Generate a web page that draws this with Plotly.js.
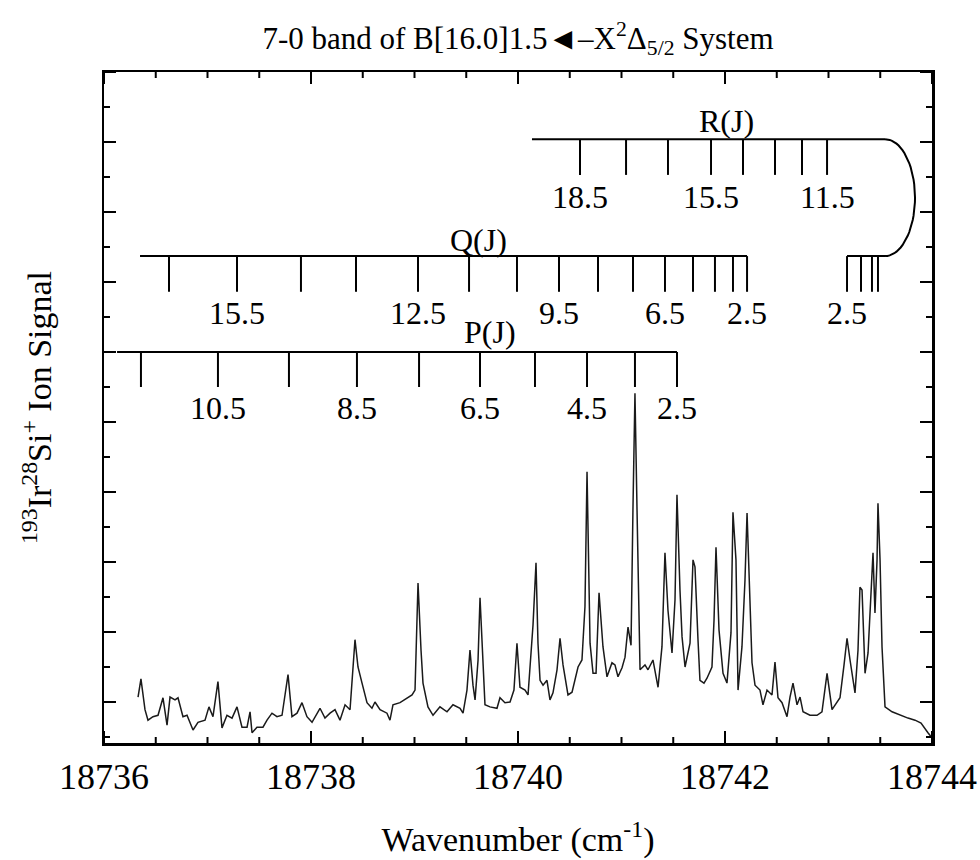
<!DOCTYPE html>
<html><head><meta charset="utf-8">
<script src="https://cdn.plot.ly/plotly-3.0.1.min.js"></script>
<style>body{margin:0;background:#fff}</style>
</head><body><div id="chart" style="width:980px;height:860px"></div>
<script>
// ---- spectrum ----
const wavenumber = [18736.329,18736.357,18736.396,18736.425,18736.473,18736.522,18736.570,18736.609,18736.638,18736.686,
18736.715,18736.763,18736.802,18736.860,18736.908,18736.976,18737.014,18737.053,18737.101,18737.140,
18737.188,18737.237,18737.285,18737.333,18737.382,18737.411,18737.430,18737.478,18737.536,18737.575,
18737.623,18737.671,18737.720,18737.778,18737.816,18737.865,18737.913,18737.961,18738.010,18738.048,
18738.087,18738.135,18738.184,18738.232,18738.280,18738.329,18738.377,18738.425,18738.454,18738.493,
18738.541,18738.589,18738.618,18738.667,18738.734,18738.763,18738.792,18738.860,18738.928,18738.976,
18739.005,18739.034,18739.063,18739.082,18739.130,18739.179,18739.246,18739.314,18739.372,18739.440,
18739.469,18739.507,18739.536,18739.565,18739.585,18739.614,18739.633,18739.662,18739.681,18739.729,
18739.797,18739.826,18739.874,18739.923,18739.961,18739.990,18740.019,18740.068,18740.097,18740.145,
18740.174,18740.193,18740.213,18740.242,18740.280,18740.309,18740.338,18740.377,18740.406,18740.435,
18740.483,18740.522,18740.580,18740.618,18740.647,18740.667,18740.696,18740.725,18740.754,18740.783,
18740.821,18740.860,18740.908,18740.937,18740.966,18741.005,18741.034,18741.063,18741.092,18741.111,
18741.130,18741.150,18741.179,18741.227,18741.256,18741.304,18741.353,18741.391,18741.420,18741.449,
18741.488,18741.517,18741.536,18741.565,18741.585,18741.614,18741.662,18741.691,18741.710,18741.739,
18741.758,18741.797,18741.826,18741.874,18741.894,18741.913,18741.942,18741.981,18742.019,18742.058,
18742.077,18742.106,18742.126,18742.164,18742.193,18742.213,18742.242,18742.261,18742.290,18742.338,
18742.367,18742.406,18742.454,18742.483,18742.512,18742.551,18742.599,18742.628,18742.657,18742.696,
18742.725,18742.754,18742.821,18742.889,18742.937,18742.986,18743.034,18743.082,18743.111,18743.150,
18743.179,18743.208,18743.256,18743.285,18743.304,18743.324,18743.353,18743.382,18743.411,18743.430,
18743.449,18743.469,18743.478,18743.498,18743.517,18743.546,18743.614,18743.691,18743.768,18743.836,
18743.894,18743.961,18744.000];
const signal = [0.07,0.33,-0.11,-0.26,-0.21,-0.19,0.06,-0.33,0.07,0.03,
0.06,-0.21,-0.19,-0.40,-0.29,-0.26,-0.07,-0.21,0.29,-0.37,
-0.19,-0.23,-0.07,-0.36,-0.36,-0.14,-0.44,-0.36,-0.36,-0.26,
-0.16,-0.21,-0.19,0.39,-0.21,-0.16,-0.01,-0.21,-0.29,-0.19,
-0.09,-0.23,-0.16,-0.11,-0.26,-0.04,-0.11,0.89,0.50,0.27,
-0.01,-0.09,0.00,-0.11,-0.16,-0.26,-0.04,-0.01,0.06,0.10,
0.17,1.70,0.74,0.27,-0.07,-0.19,-0.07,-0.14,-0.04,-0.09,
-0.16,0.17,0.74,0.24,0.03,0.60,1.49,0.60,-0.04,-0.07,
-0.09,0.06,-0.01,0.00,0.17,0.84,0.21,0.17,0.10,1.10,
1.99,0.84,0.31,0.24,0.31,0.03,0.13,0.46,0.91,0.53,
0.10,0.14,0.50,0.60,1.36,3.29,0.84,0.41,0.41,1.56,
0.79,0.36,0.56,0.53,0.36,0.49,0.64,1.07,0.81,2.79,
4.41,2.74,0.46,0.53,0.46,0.60,0.21,0.79,2.13,1.31,
0.70,1.46,2.96,1.60,0.93,0.50,0.84,2.03,1.93,0.89,
0.31,0.27,0.34,0.50,1.17,2.21,1.03,0.41,0.27,0.99,
2.71,2.03,0.17,0.79,1.74,2.70,1.46,0.56,0.24,0.17,
-0.04,0.17,0.10,0.57,0.06,-0.01,-0.21,0.07,0.27,-0.04,
0.07,-0.14,-0.19,-0.19,-0.14,0.41,-0.11,-0.01,0.06,0.53,
0.91,0.60,0.13,0.74,1.64,1.60,0.41,0.70,1.46,2.13,
1.27,2.03,2.84,2.03,0.79,-0.07,-0.14,-0.19,-0.23,-0.26,
-0.30,-0.44,-0.51];

// ---- rotational assignments ----
const rJ   = [18.5, 17.5, 16.5, 15.5, 14.5, 13.5, 12.5, 11.5];
const rPos = [18740.599, 18741.044, 18741.449, 18741.865, 18742.174, 18742.483, 18742.744, 18742.986];
const rSpan = [18740.135, 18743.546];
const rTurn = [18743.836];
const rLowJ   = [2.5, 3.5, 4.5, 5.5];
const rLowPos = [18743.179, 18743.314, 18743.420, 18743.478];
const qJ   = [16.5, 15.5, 14.5, 13.5, 12.5, 11.5, 10.5, 9.5, 8.5, 7.5, 6.5, 5.5, 4.5, 3.5, 2.5];
const qPos = [18736.628, 18737.285, 18737.903, 18738.435, 18739.034, 18739.527, 18739.990, 18740.396,
              18740.773, 18741.111, 18741.420, 18741.691, 18741.903, 18742.077, 18742.213];
const qSpan = [18736.348, 18742.213];
const pJ   = [11.5, 10.5, 9.5, 8.5, 7.5, 6.5, 5.5, 4.5, 3.5, 2.5];
const pPos = [18736.357, 18737.101, 18737.787, 18738.444, 18739.044, 18739.633, 18740.164, 18740.667,
              18741.130, 18741.536];
const pSpan = [18736.126, 18741.536];
const rLabelJ = [18.5, 15.5, 11.5];
const rLowLabelJ = [2.5];
const qLabelJ = [15.5, 12.5, 9.5, 6.5, 2.5];
const pLabelJ = [10.5, 8.5, 6.5, 4.5, 2.5];
const branchNames = ['R(J)', 'Q(J)', 'P(J)'];
const xTickVals = [18736, 18738, 18740, 18742, 18744];
const xRange = [18736, 18744];
const yRange = [-0.586, 9.0];
const xMinorStep = 0.5, yMajorStep = 1, yMinorStep = 0.5;

// ---- layout levels (signal units) ----
const LV = {
  R: {line: 8.04, tick: 7.53, label: 7.21, name: 8.30, nameX: 18742.015},
  Q: {line: 6.37, tick: 5.86, label: 5.56, name: 6.60, nameX: 18739.614},
  P: {line: 5.00, tick: 4.50, label: 4.20, name: 5.29, nameX: 18739.730}
};
const FONT = 'Liberation Serif, Times New Roman, serif';
const PLOT_W = 828, PLOT_H = 671, MAJ = 12, MIN = 6;

function ladder(pos, span, top, bottom) {
  const xs = [span[0], span[1], null], ys = [top, top, null];
  pos.forEach(p => { xs.push(p, p, null); ys.push(top, bottom, null); });
  return {x: xs, y: ys, mode: 'lines', line: {color: '#000', width: 2}, hoverinfo: 'skip'};
}

const traces = [
  {x: wavenumber, y: signal, mode: 'lines', line: {color: '#1a1a1a', width: 1.5}},
  ladder(rPos, rSpan, LV.R.line, LV.R.tick),
  ladder(qPos, qSpan, LV.Q.line, LV.Q.tick),
  ladder(pPos, pSpan, LV.P.line, LV.P.tick),
  ladder(rLowPos, [rLowPos[0], rSpan[1]], LV.Q.line, LV.Q.tick)
];
// R-branch head turn-around arc
const arcX = [], arcY = [];
const mid = (LV.R.line + LV.Q.line) / 2, half = (LV.R.line - LV.Q.line) / 2;
for (let i = 0; i <= 40; i++) {
  const t = Math.PI * i / 40;
  arcX.push(rSpan[1] + (rTurn[0] - rSpan[1]) * Math.sin(t));
  arcY.push(mid + half * Math.cos(t));
}
traces.push({x: arcX, y: arcY, mode: 'lines', line: {color: '#000', width: 2}, hoverinfo: 'skip'});

const ann = [];
function addLabels(Js, allJ, pos, y) {
  Js.forEach(j => {
    const k = allJ.indexOf(j);
    ann.push({x: pos[k], y: y, xref: 'x', yref: 'y', text: j.toFixed(1), showarrow: false,
              font: {family: FONT, size: 32, color: '#000'}});
  });
}
addLabels(rLabelJ, rJ, rPos, LV.R.label);
addLabels(rLowLabelJ, rLowJ, rLowPos, LV.Q.label);
addLabels(qLabelJ, qJ, qPos, LV.Q.label);
addLabels(pLabelJ, pJ, pPos, LV.P.label);
[LV.R, LV.Q, LV.P].forEach((lv, i) => {
  ann.push({x: lv.nameX, y: lv.name, xref: 'x', yref: 'y', text: branchNames[i], showarrow: false,
            font: {family: FONT, size: 32, color: '#000'}});
});

// ---- axis ticks on all four sides (inside), major + minor ----
const shapes = [];
const tl = {color: '#000', width: 2};
for (let v = xRange[0]; v <= xRange[1] + 1e-9; v += xMinorStep) {
  const isMaj = xTickVals.some(t => Math.abs(t - v) < 1e-6);
  const f = (isMaj ? MAJ : MIN) / PLOT_H;
  shapes.push({type: 'line', xref: 'x', yref: 'paper', x0: v, x1: v, y0: 0, y1: f, line: tl});
  shapes.push({type: 'line', xref: 'x', yref: 'paper', x0: v, x1: v, y0: 1, y1: 1 - f, line: tl});
}
const yStart = Math.ceil(yRange[0] / yMinorStep) * yMinorStep;
for (let v = yStart; v <= yRange[1] + 1e-9; v += yMinorStep) {
  const isMaj = Math.abs(v / yMajorStep - Math.round(v / yMajorStep)) < 1e-6;
  const f = (isMaj ? MAJ : MIN) / PLOT_W;
  shapes.push({type: 'line', xref: 'paper', yref: 'y', x0: 0, x1: f, y0: v, y1: v, line: tl});
  shapes.push({type: 'line', xref: 'paper', yref: 'y', x0: 1, x1: 1 - f, y0: v, y1: v, line: tl});
}

const layout = {
  width: 980, height: 860,
  margin: {l: 104, r: 48, t: 72, b: 117},
  paper_bgcolor: '#fff', plot_bgcolor: '#fff',
  showlegend: false,
  font: {family: FONT, color: '#000'},
  title: {text: '7-0 band of B[16.0]1.5\u25C4\u2013X<sup>2</sup>\u0394<sub>5/2</sub> System',
          font: {family: FONT, size: 31, color: '#000'},
          x: 0.5, xref: 'paper', y: 1 - 38 / 860, yref: 'container', yanchor: 'middle'},
  xaxis: {range: xRange, tickvals: xTickVals, ticktext: xTickVals.map(String),
          ticks: 'inside', ticklen: MAJ, tickwidth: 2, tickcolor: '#000',
          showline: true, linewidth: 2.5, linecolor: '#000', mirror: true,
          showgrid: false, zeroline: false,
          tickfont: {family: FONT, size: 36, color: '#000'},
          title: {text: 'Wavenumber (cm<sup>-1</sup>)', font: {family: FONT, size: 34, color: '#000'}, standoff: 32}},
  yaxis: {range: yRange, showticklabels: false, ticks: '',
          showline: true, linewidth: 2.5, linecolor: '#000', mirror: true,
          showgrid: false, zeroline: false,
          title: {text: '<sup>193</sup>Ir<sup>28</sup>Si<sup>+</sup> Ion Signal', font: {family: FONT, size: 34, color: '#000'}, standoff: 40}},
  shapes: shapes,
  annotations: ann
};
Plotly.newPlot('chart', traces, layout, {displayModeBar: false, staticPlot: true});
</script></body></html>
